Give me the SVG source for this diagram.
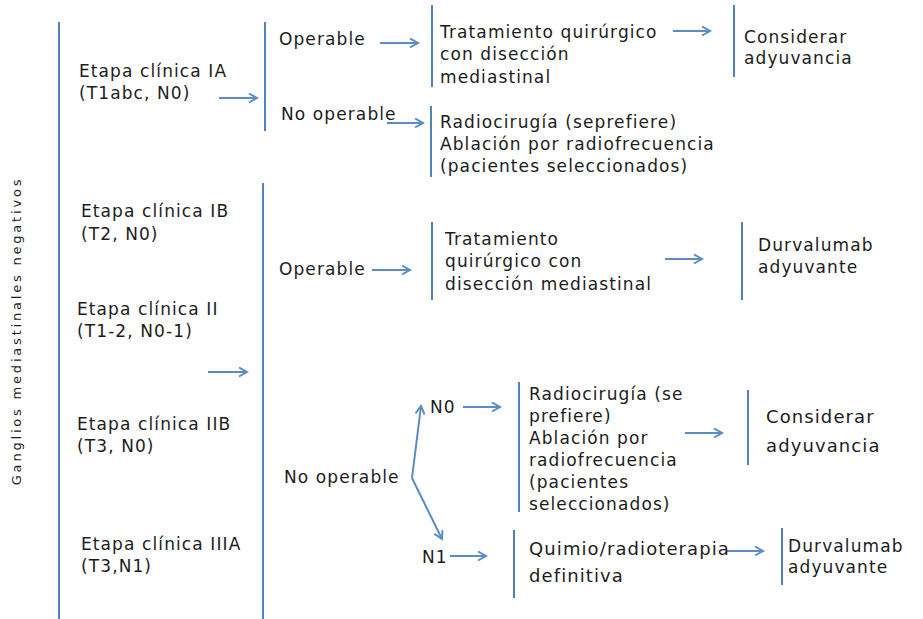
<svg xmlns="http://www.w3.org/2000/svg" width="923" height="619" viewBox="0 0 923 619">
<defs>
<marker id="ah" markerUnits="userSpaceOnUse" markerWidth="12" markerHeight="12" refX="9" refY="5" orient="auto">
<path d="M1,0.5 L9,5 L1,9.5" fill="none" stroke="#5b8cc8" stroke-width="2"/>
</marker>
<style>
.t{font-family:"DejaVu Sans","Liberation Sans",sans-serif;font-size:17px;letter-spacing:1.1px;fill:#1c1c1c}
.b{font-size:18px;letter-spacing:1.1px}
.v{font-family:"DejaVu Sans","Liberation Sans",sans-serif;font-size:13px;letter-spacing:2.8px;fill:#1c1c1c}
.br{stroke:#4f81bd;stroke-width:2;fill:none}
.ar{stroke:#5b8cc8;stroke-width:2;fill:none;marker-end:url(#ah)}
</style>
</defs>
<rect width="923" height="619" fill="#fff"/>
<g id="brackets">
<line class="br" x1="59" y1="22" x2="59" y2="619"/>
<line class="br" x1="265" y1="22" x2="265" y2="131"/>
<line class="br" x1="263" y1="183" x2="263" y2="619"/>
<line class="br" x1="432" y1="5" x2="432" y2="87"/>
<line class="br" x1="431" y1="106" x2="431" y2="177"/>
<line class="br" x1="734" y1="5" x2="734" y2="77"/>
<line class="br" x1="432" y1="222" x2="432" y2="300"/>
<line class="br" x1="742" y1="222" x2="742" y2="300"/>
<line class="br" x1="519" y1="382" x2="519" y2="512"/>
<line class="br" x1="748" y1="390" x2="748" y2="465"/>
<line class="br" x1="514" y1="530" x2="514" y2="598"/>
<line class="br" x1="782" y1="528" x2="782" y2="585"/>
</g>
<g id="connectors">
<line class="ar" x1="219" y1="98" x2="257" y2="98"/>
<line class="ar" x1="380" y1="43" x2="418" y2="43"/>
<line class="ar" x1="387" y1="123" x2="423" y2="123"/>
<line class="ar" x1="673" y1="31" x2="710" y2="31"/>
<line class="ar" x1="208" y1="372" x2="247" y2="372"/>
<line class="ar" x1="372" y1="270" x2="410" y2="270"/>
<line class="ar" x1="665" y1="259" x2="702" y2="259"/>
<line class="ar" x1="463" y1="407" x2="500" y2="407"/>
<line class="ar" x1="412" y1="478" x2="421" y2="406"/>
<line class="ar" x1="412" y1="478" x2="442" y2="539"/>
<line class="ar" x1="685" y1="433" x2="722" y2="433"/>
<line class="ar" x1="450" y1="556" x2="486" y2="556"/>
<line class="ar" x1="727" y1="551" x2="763" y2="551"/>
</g>
<g id="label-vertical">
<text class="v" transform="translate(21,331) rotate(-90)" text-anchor="middle">Ganglios mediastinales negativos</text>
</g>
<g id="stage-ia">
<text class="t" x="79" y="77">Etapa clínica IA</text>
<text class="t" x="79" y="99">(T1abc, N0)</text>
</g>
<g id="ia-operable"><text class="t" x="279" y="45">Operable</text></g>
<g id="ia-no-operable"><text class="t" x="281" y="120">No operable</text></g>
<g id="ia-tratamiento">
<text class="t" x="440" y="38">Tratamiento quirúrgico</text>
<text class="t" x="440" y="60">con disección</text>
<text class="t" x="440" y="83">mediastinal</text>
</g>
<g id="ia-radiocirugia">
<text class="t" x="440" y="128">Radiocirugía (seprefiere)</text>
<text class="t" x="440" y="150">Ablación por radiofrecuencia</text>
<text class="t" x="440" y="172">(pacientes seleccionados)</text>
</g>
<g id="ia-considerar">
<text class="t" x="744" y="43">Considerar</text>
<text class="t" x="744" y="64">adyuvancia</text>
</g>
<g id="stage-ib">
<text class="t" x="81" y="217">Etapa clínica IB</text>
<text class="t" x="81" y="240">(T2, N0)</text>
</g>
<g id="stage-ii">
<text class="t" x="77" y="315">Etapa clínica II</text>
<text class="t" x="77" y="337">(T1-2, N0-1)</text>
</g>
<g id="stage-iib">
<text class="t" x="77" y="430">Etapa clínica IIB</text>
<text class="t" x="77" y="452">(T3, N0)</text>
</g>
<g id="stage-iiia">
<text class="t" x="81" y="550">Etapa clínica IIIA</text>
<text class="t" x="81" y="572">(T3,N1)</text>
</g>
<g id="operable-2"><text class="t" x="279" y="275">Operable</text></g>
<g id="tratamiento-2">
<text class="t" x="445" y="245">Tratamiento</text>
<text class="t" x="445" y="267">quirúrgico con</text>
<text class="t" x="445" y="290">disección mediastinal</text>
</g>
<g id="durvalumab-1">
<text class="t" x="758" y="251">Durvalumab</text>
<text class="t" x="758" y="273">adyuvante</text>
</g>
<g id="no-operable-2"><text class="t" x="284" y="483">No operable</text></g>
<g id="n0"><text class="t" x="430" y="413">N0</text></g>
<g id="radiocirugia-2">
<text class="t" x="529" y="400">Radiocirugía (se</text>
<text class="t" x="529" y="422">prefiere)</text>
<text class="t" x="529" y="444">Ablación por</text>
<text class="t" x="529" y="466">radiofrecuencia</text>
<text class="t" x="529" y="488">(pacientes</text>
<text class="t" x="529" y="510">seleccionados)</text>
</g>
<g id="considerar-2">
<text class="t b" x="766" y="423">Considerar</text>
<text class="t b" x="766" y="452">adyuvancia</text>
</g>
<g id="n1"><text class="t" x="422" y="563">N1</text></g>
<g id="quimio">
<text class="t b" x="529" y="555">Quimio/radioterapia</text>
<text class="t b" x="529" y="582">definitiva</text>
</g>
<g id="durvalumab-2">
<text class="t" x="788" y="552">Durvalumab</text>
<text class="t" x="788" y="573">adyuvante</text>
</g>
</svg>
